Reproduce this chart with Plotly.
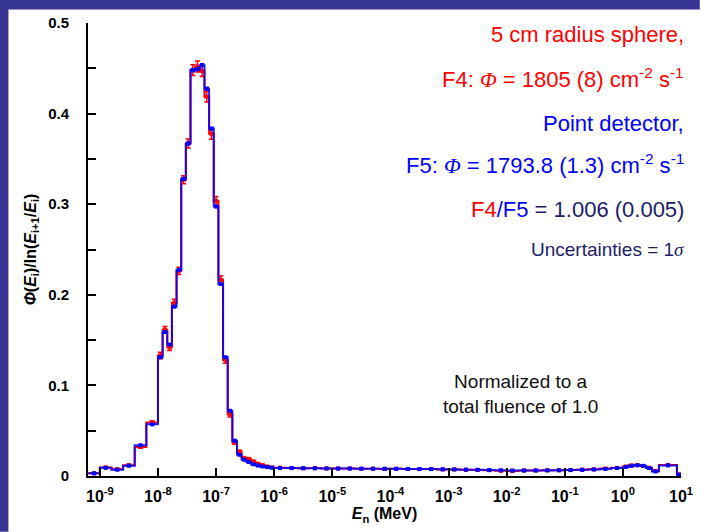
import plotly.graph_objects as go

# ---------------- data ----------------
# bin edges, log10(E / MeV)
edges_log = [
    -9.2, -9.0, -8.8, -8.6, -8.4, -8.2,
    -8.0, -7.92, -7.84, -7.76, -7.68, -7.60, -7.52, -7.44, -7.36, -7.28,
    -7.20, -7.12, -7.04, -6.96, -6.88, -6.80, -6.72, -6.64, -6.56, -6.48,
    -6.40, -6.32, -6.24, -6.16, -6.08,
    -6.0, -5.8, -5.6, -5.4, -5.2, -5.0, -4.8, -4.6, -4.4, -4.2,
    -4.0, -3.8, -3.6, -3.4, -3.2, -3.0, -2.8, -2.6, -2.4, -2.2,
    -2.0, -1.8, -1.6, -1.4, -1.2, -1.0, -0.8, -0.6, -0.4, -0.2,
    0.0, 0.1, 0.2, 0.3, 0.4, 0.5, 0.62, 0.93, 1.0,
]

# F5 (point detector), blue
f5_vals = [
    0.003, 0.009, 0.007, 0.0113, 0.034, 0.057,
    0.131, 0.159, 0.145, 0.187, 0.2275, 0.328, 0.367, 0.448, 0.449, 0.4535,
    0.4275, 0.3835, 0.2975, 0.212, 0.131, 0.072, 0.039, 0.0234, 0.018, 0.0155,
    0.013, 0.0115, 0.0105, 0.0098, 0.0092,
    0.0088, 0.0087, 0.0086, 0.0085, 0.0084, 0.0083, 0.0082, 0.0081, 0.0080, 0.0080,
    0.0079, 0.0078, 0.0077, 0.0076, 0.0074, 0.0072, 0.0070, 0.0068, 0.0066, 0.0063,
    0.0060, 0.0060, 0.0061, 0.0062, 0.0063, 0.0065, 0.0068, 0.0072, 0.0078, 0.0088,
    0.0100, 0.0112, 0.0118, 0.0112, 0.0088, 0.0050, 0.0117, 0.0015,
]
f5_err = [
    0.0002, 0.0003, 0.0003, 0.0003, 0.0005, 0.0006,
    0.0008, 0.0008, 0.0008, 0.0009, 0.0010, 0.0012, 0.0012, 0.0014, 0.0014, 0.0014,
    0.0013, 0.0012, 0.0011, 0.0010, 0.0008, 0.0006, 0.0004, 0.0003, 0.0003, 0.0002,
    0.0002, 0.0002, 0.0002, 0.0002, 0.0002,
    0.0001, 0.0001, 0.0001, 0.0001, 0.0001, 0.0001, 0.0001, 0.0001, 0.0001, 0.0001,
    0.0001, 0.0001, 0.0001, 0.0001, 0.0001, 0.0001, 0.0001, 0.0001, 0.0001, 0.0001,
    0.0001, 0.0001, 0.0001, 0.0001, 0.0001, 0.0001, 0.0001, 0.0001, 0.0001, 0.0001,
    0.0001, 0.0001, 0.0001, 0.0001, 0.0001, 0.0001, 0.0001, 0.0001,
]

# F4 (5 cm radius sphere), red
f4_vals = [
    0.003, 0.0095, 0.0075, 0.012, 0.032, 0.059,
    0.133, 0.1615, 0.142, 0.191, 0.2264, 0.327, 0.367, 0.448, 0.452, 0.447,
    0.4187, 0.3777, 0.3036, 0.2165, 0.128, 0.068, 0.037, 0.027, 0.020, 0.019,
    0.016, 0.0135, 0.012, 0.0105, 0.0095,
    0.0092, 0.0088, 0.0085, 0.0087, 0.0083, 0.0082, 0.0084, 0.0080, 0.0081, 0.0078,
    0.0080, 0.0077, 0.0076, 0.0077, 0.0072, 0.0073, 0.0069, 0.0067, 0.0064, 0.0058,
    0.0056, 0.0061, 0.0060, 0.0063, 0.0064, 0.0066, 0.0070, 0.0074, 0.0082, 0.0090,
    0.0105, 0.0118, 0.0121, 0.0110, 0.0092, 0.0055, 0.0122, 0.0018,
]
f4_err = [
    0.0005, 0.0008, 0.0008, 0.0010, 0.0015, 0.0020,
    0.0035, 0.0035, 0.0035, 0.0040, 0.0040, 0.0045, 0.0050, 0.0060, 0.0060, 0.0060,
    0.0060, 0.0060, 0.0050, 0.0045, 0.0035, 0.0030, 0.0020, 0.0015, 0.0012, 0.0010,
    0.0010, 0.0008, 0.0008, 0.0007, 0.0007,
    0.0005, 0.0005, 0.0005, 0.0005, 0.0005, 0.0005, 0.0005, 0.0005, 0.0005, 0.0005,
    0.0005, 0.0005, 0.0005, 0.0005, 0.0005, 0.0005, 0.0005, 0.0005, 0.0005, 0.0005,
    0.0005, 0.0005, 0.0005, 0.0005, 0.0005, 0.0005, 0.0005, 0.0005, 0.0005, 0.0005,
    0.0006, 0.0006, 0.0006, 0.0006, 0.0006, 0.0006, 0.0006, 0.0006,
]

x_tickvals = [1e-9, 1e-8, 1e-7, 1e-6, 1e-5, 1e-4, 1e-3, 1e-2, 1e-1, 1e0, 1e1]
x_ticktext = ["10<sup>-9</sup>", "10<sup>-8</sup>", "10<sup>-7</sup>", "10<sup>-6</sup>",
              "10<sup>-5</sup>", "10<sup>-4</sup>", "10<sup>-3</sup>", "10<sup>-2</sup>",
              "10<sup>-1</sup>", "10<sup>0</sup>", "10<sup>1</sup>"]
y_tickvals = [0, 0.1, 0.2, 0.3, 0.4, 0.5]
y_ticktext = ["0", "0.1", "0.2", "0.3", "0.4", "0.5"]

# ---------------- derived arrays ----------------
n = len(f5_vals)
edges = [10 ** e for e in edges_log]
centers = [10 ** ((edges_log[i] + edges_log[i + 1]) / 2) for i in range(n)]
step_f5 = f5_vals + [f5_vals[-1]]
step_f4 = f4_vals + [f4_vals[-1]]

RED = "#ff0000"
BLUE = "#0000ff"
NAVY = "#1c1c6c"
FRAME = "#363594"
FONT = "Liberation Sans, Arial, sans-serif"

fig = go.Figure()

# red (F4) step line + points with error bars
fig.add_trace(go.Scatter(x=edges, y=step_f4, mode="lines", line=dict(color=RED, width=2, shape="hv"),
                         hoverinfo="skip", showlegend=False))
fig.add_trace(go.Scatter(x=centers, y=f4_vals, mode="markers",
                         marker=dict(color=RED, size=4, symbol="square"),
                         error_y=dict(type="data", array=f4_err, color=RED, thickness=1.5, width=2.5),
                         showlegend=False))
# blue (F5) step line + points
fig.add_trace(go.Scatter(x=edges, y=step_f5, mode="lines", line=dict(color=BLUE, width=2, shape="hv"),
                         opacity=0.85, hoverinfo="skip", showlegend=False))
fig.add_trace(go.Scatter(x=centers, y=f5_vals, mode="markers",
                         marker=dict(color=BLUE, size=4, symbol="square"),
                         error_y=dict(type="data", array=f5_err, color=BLUE, thickness=1.5, width=2),
                         showlegend=False))

# geometry helpers (pixel -> paper)
L, R, T, B = 88, 17, 23, 54
W, H = 705, 532
PW, PH = W - L - R, H - T - B


def px(x):
    return (x - L) / PW


def py(y):
    return (H - B - y) / PH


ann = []
right = px(693)
lines = [
    ("5 cm radius sphere,", RED, 35, 22),
    ('F4: <i><span style="font-family:Liberation Serif">Φ</span></i> = 1805 (8) cm<sup>-2</sup> s<sup>-1</sup>', RED, 78, 22),
    ("Point detector,", BLUE, 123.5, 22),
    ('F5: <i><span style="font-family:Liberation Serif">Φ</span></i> = 1793.8 (1.3) cm<sup>-2</sup> s<sup>-1</sup>', BLUE, 164.5, 22),
    ('<span style="color:#ff0000">F4</span><span style="color:#0000ff">/F5</span> = 1.006 (0.005)', NAVY, 210, 22),
    ('Uncertainties = 1<i><span style="font-family:Liberation Serif">σ</span></i>', NAVY, 251, 19),
]
for txt, col, yc, fs in lines:
    ann.append(dict(text=txt, xref="paper", yref="paper", x=right, y=py(yc),
                    xanchor="right", yanchor="middle", showarrow=False,
                    font=dict(family=FONT, size=fs, color=col)))

ann.append(dict(text="Normalized to a<br>total fluence of 1.0", xref="paper", yref="paper",
                x=px(526), y=py(396), xanchor="center", yanchor="middle", showarrow=False,
                font=dict(family=FONT, size=19, color="#111111")))

shapes = [
    dict(type="rect", xref="paper", yref="paper", x0=px(-2), x1=px(7.5), y0=py(H + 2), y1=py(-2),
         fillcolor=FRAME, line=dict(width=0), layer="above"),
    dict(type="rect", xref="paper", yref="paper", x0=px(-2), x1=px(W + 2), y0=py(9.5), y1=py(-2),
         fillcolor=FRAME, line=dict(width=0), layer="above"),
]

fig.update_layout(
    width=W, height=H,
    margin=dict(l=L, r=R, t=T, b=B, pad=0),
    paper_bgcolor="white", plot_bgcolor="white",
    font=dict(family=FONT, color="black"),
    annotations=ann, shapes=shapes,
    xaxis=dict(
        type="log", range=[-9.204, 1.0],
        tickvals=x_tickvals, ticktext=x_ticktext,
        ticks="inside", ticklen=8, tickwidth=2, tickcolor="black",
        showline=True, linecolor="black", linewidth=2,
        showgrid=False, zeroline=False, ticklabelstandoff=5,
        tickfont=dict(family=FONT, size=16, color="black", weight="bold"),
        title=dict(text="<b><i>E</i><sub>n</sub> (MeV)</b>", standoff=4,
                   font=dict(family=FONT, size=16, color="black")),
    ),
    yaxis=dict(
        range=[0, 0.5], tickvals=y_tickvals, ticktext=y_ticktext,
        ticks="inside", ticklen=8, tickwidth=2, tickcolor="black",
        minor=dict(dtick=0.05, ticks="inside", ticklen=8, tickwidth=2, tickcolor="black", showgrid=False),
        showline=True, linecolor="black", linewidth=2,
        showgrid=False, zeroline=False, ticklabelstandoff=14,
        tickfont=dict(family=FONT, size=15, color="black", weight="bold"),
        title=dict(text="<b><i>Φ</i>(<i>E</i><sub>i</sub>)/ln(<i>E</i><sub>i+1</sub>/<i>E</i><sub>i</sub>)</b>",
                   standoff=8, font=dict(family=FONT, size=16, color="black")),
    ),
)

fig.write_html("out.html")
